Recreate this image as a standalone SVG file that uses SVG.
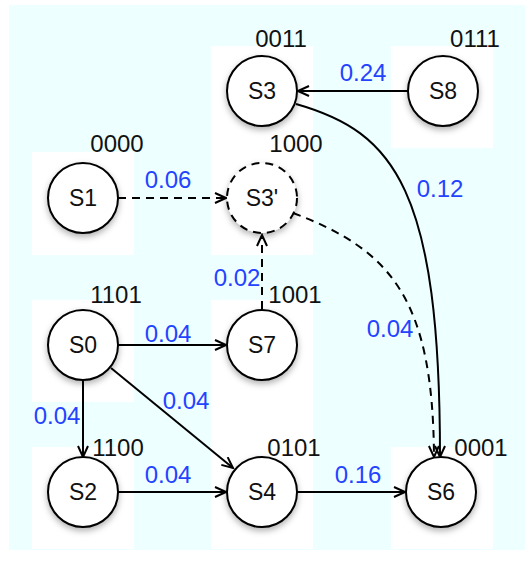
<svg xmlns="http://www.w3.org/2000/svg" width="525" height="561" viewBox="0 0 525 561">
<style>
.bg{fill:#eeffff}
.pad{fill:#ffffff}
.node circle{fill:#ffffff;stroke:#000;stroke-width:2;filter:url(#sh)}
.node circle.dash{stroke-dasharray:8,6}
.nl{font-family:"Liberation Sans",Arial,sans-serif;font-size:23px;fill:#111;text-anchor:middle}
.code{font-family:"Liberation Sans",Arial,sans-serif;font-size:24px;fill:#111;text-anchor:middle}
.el{font-family:"Liberation Sans",Arial,sans-serif;font-size:24px;fill:#2443ff;text-anchor:middle}
.e{fill:none;stroke:#000;stroke-width:2;marker-end:url(#arr)}
.d{stroke-dasharray:8,6}
</style>
<defs>
<filter id="sh" x="-30%" y="-30%" width="160%" height="170%">
<feDropShadow dx="0" dy="3" stdDeviation="3" flood-color="#000" flood-opacity="0.3"/>
</filter>
<marker id="arr" markerUnits="userSpaceOnUse" markerWidth="14" markerHeight="12" refX="12" refY="6" orient="auto">
<path d="M1,1 L12,6 L1,11" fill="none" stroke="#000" stroke-width="2"/>
</marker>
</defs>
<rect class="bg" x="9" y="5" width="516" height="545"/>
<g id="pads">
<rect class="pad" x="211" y="46" width="102" height="209"/>
<rect class="pad" x="391" y="46" width="102" height="102"/>
<rect class="pad" x="32" y="152" width="102" height="103"/>
<rect class="pad" x="32" y="300" width="102" height="102"/>
<rect class="pad" x="211" y="300" width="102" height="249"/>
<rect class="pad" x="32" y="447" width="102" height="102"/>
<rect class="pad" x="391" y="447" width="102" height="102"/>
</g>
<g id="connectors">
<line class="e" x1="408" y1="91" x2="298" y2="91"/>
<path class="e" d="M296,104 C395,132 440,190 440,457"/>
<path class="e d" d="M293,213 C392,250 433,300 434,457"/>
<line class="e d" x1="118" y1="198" x2="226" y2="198"/>
<line class="e d" x1="262" y1="309" x2="262" y2="235"/>
<line class="e" x1="118" y1="345" x2="226" y2="345"/>
<line class="e" x1="83" y1="380" x2="83" y2="457"/>
<line class="e" x1="111" y1="368" x2="233" y2="468"/>
<line class="e" x1="118" y1="492" x2="226" y2="492"/>
<line class="e" x1="297" y1="492" x2="405" y2="492"/>
</g>
<g id="edge-labels">
<text class="el" x="363" y="81">0.24</text>
<text class="el" x="168" y="188">0.06</text>
<text class="el" x="440" y="197">0.12</text>
<text class="el" x="237" y="286">0.02</text>
<text class="el" x="168" y="342">0.04</text>
<text class="el" x="390" y="337">0.04</text>
<text class="el" x="186" y="409">0.04</text>
<text class="el" x="57" y="424">0.04</text>
<text class="el" x="168" y="483">0.04</text>
<text class="el" x="358" y="483">0.16</text>
</g>
<g id="S3" class="node"><circle cx="262" cy="91" r="35"/><text class="nl" x="262" y="99">S3</text><text class="code" x="281" y="47">0011</text></g>
<g id="S8" class="node"><circle cx="443" cy="91" r="35"/><text class="nl" x="443" y="99">S8</text><text class="code" x="475" y="47">0111</text></g>
<g id="S1" class="node"><circle cx="83" cy="198" r="35"/><text class="nl" x="83" y="206">S1</text><text class="code" x="117" y="152">0000</text></g>
<g id="S3p" class="node"><circle class="dash" cx="262" cy="198" r="35"/><text class="nl" x="262" y="206">S3'</text><text class="code" x="296" y="152">1000</text></g>
<g id="S0" class="node"><circle cx="83" cy="345" r="35"/><text class="nl" x="83" y="353">S0</text><text class="code" x="116" y="303">1101</text></g>
<g id="S7" class="node"><circle cx="262" cy="345" r="35"/><text class="nl" x="262" y="353">S7</text><text class="code" x="295" y="303">1001</text></g>
<g id="S2" class="node"><circle cx="83" cy="492" r="35"/><text class="nl" x="83" y="500">S2</text><text class="code" x="118" y="456">1100</text></g>
<g id="S4" class="node"><circle cx="262" cy="492" r="35"/><text class="nl" x="262" y="500">S4</text><text class="code" x="294" y="456">0101</text></g>
<g id="S6" class="node"><circle cx="441" cy="492" r="35"/><text class="nl" x="441" y="500">S6</text><text class="code" x="481" y="456">0001</text></g>
</svg>
